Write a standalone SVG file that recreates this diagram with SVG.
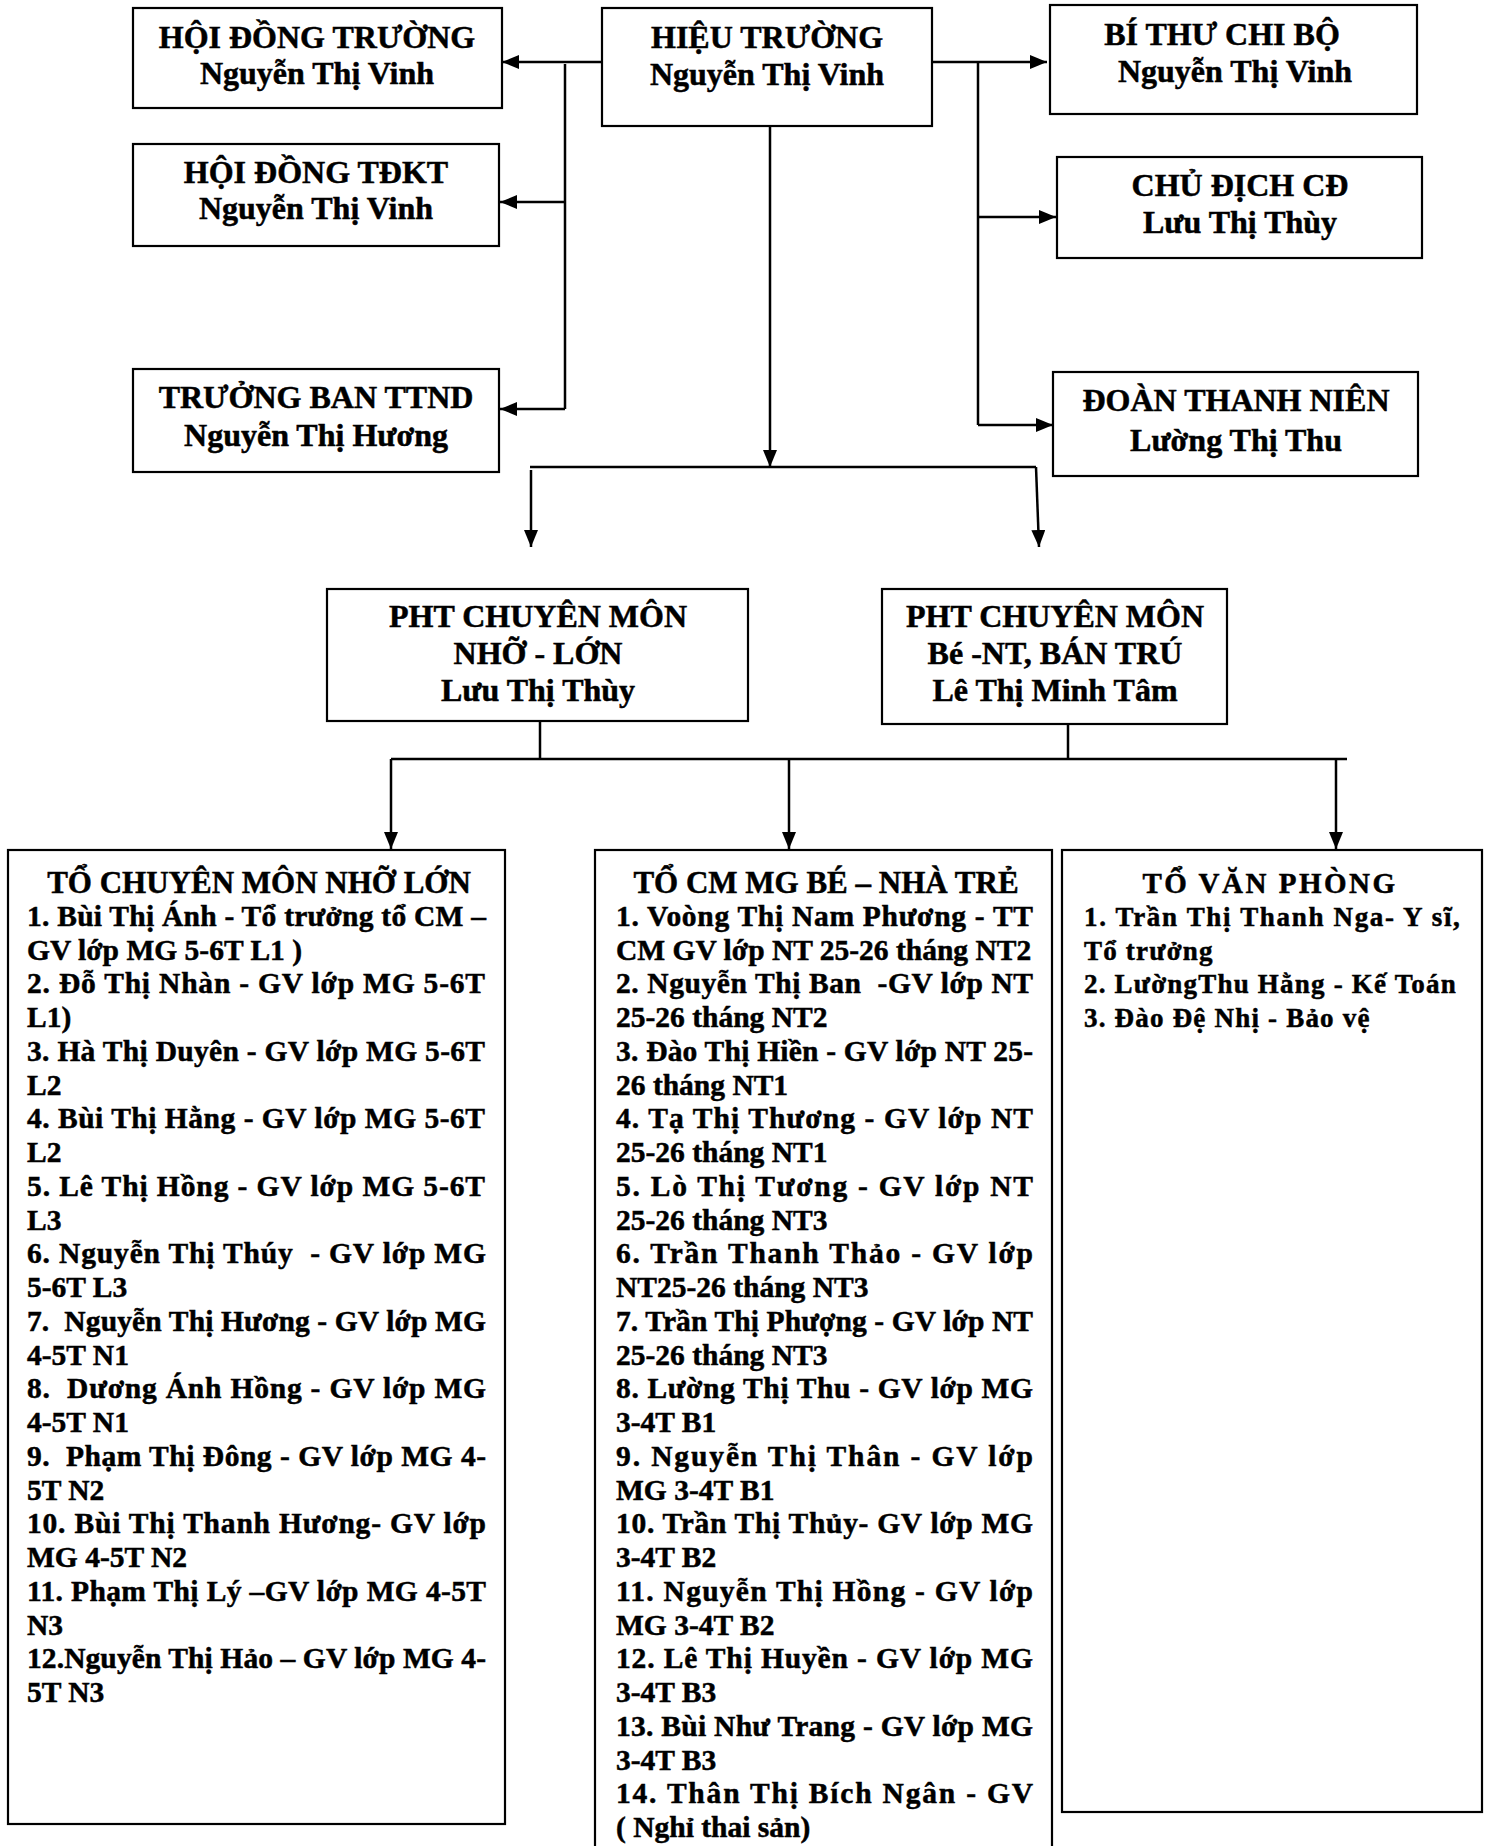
<svg xmlns="http://www.w3.org/2000/svg" width="1489" height="1846" viewBox="0 0 1489 1846">
<style>
  .bx{fill:#fff;stroke:#000;stroke-width:2.2}
  text{font-family:"Liberation Serif","Times New Roman",serif;font-weight:bold;fill:#000;stroke:#000;stroke-width:0.5}
  .h{font-size:32px;text-anchor:middle}
  .tt{font-size:31px;text-anchor:middle}
  .li{font-size:29.5px;white-space:pre}
  .vp{font-size:27px;letter-spacing:1.2px;white-space:pre}
  .vt{font-size:29px;letter-spacing:2.5px;text-anchor:middle}
  .cn{fill:none;stroke:#000;stroke-width:2.5}
</style>
<defs>
  <marker id="arr" markerUnits="userSpaceOnUse" markerWidth="17" markerHeight="14" viewBox="0 0 17 14" refX="17" refY="7" orient="auto">
    <path d="M0,0 L17,7 L0,14 z" fill="#000"/>
  </marker>
</defs>
<rect width="1489" height="1846" fill="#fff"/>

<g id="connectors">
  <path class="cn" d="M602,62 H502" marker-end="url(#arr)"/>
  <path class="cn" d="M565,64 V409"/>
  <path class="cn" d="M565,202 H500" marker-end="url(#arr)"/>
  <path class="cn" d="M565,409 H500" marker-end="url(#arr)"/>
  <path class="cn" d="M932,62 H1047" marker-end="url(#arr)"/>
  <path class="cn" d="M978,62 V425"/>
  <path class="cn" d="M978,217 H1056" marker-end="url(#arr)"/>
  <path class="cn" d="M978,425 H1053" marker-end="url(#arr)"/>
  <path class="cn" d="M770,126 V467" marker-end="url(#arr)"/>
  <path class="cn" d="M530,467 H1036"/>
  <path class="cn" d="M531,470 V547" marker-end="url(#arr)"/>
  <path class="cn" d="M1036,467 L1039,547" marker-end="url(#arr)"/>
  <path class="cn" d="M540,721 V759"/>
  <path class="cn" d="M1068,724 V759"/>
  <path class="cn" d="M391,759 H1347"/>
  <path class="cn" d="M391,759 V849" marker-end="url(#arr)"/>
  <path class="cn" d="M789,759 V849" marker-end="url(#arr)"/>
  <path class="cn" d="M1336,759 V849" marker-end="url(#arr)"/>
</g>

<g id="hoi-dong-truong">
  <rect class="bx" x="133" y="8" width="369" height="100"/>
  <text class="h" x="317" y="48">HỘI ĐỒNG TRƯỜNG</text>
  <text class="h" x="317" y="84">Nguyễn Thị Vinh</text>
</g>
<g id="hoi-dong-tdkt">
  <rect class="bx" x="133" y="144" width="366" height="102"/>
  <text class="h" x="316" y="183">HỘI ĐỒNG TĐKT</text>
  <text class="h" x="316" y="219">Nguyễn Thị Vinh</text>
</g>
<g id="truong-ban-ttnd">
  <rect class="bx" x="133" y="369" width="366" height="103"/>
  <text class="h" x="316" y="408">TRƯỞNG BAN TTND</text>
  <text class="h" x="316" y="446">Nguyễn Thị Hương</text>
</g>
<g id="hieu-truong">
  <rect class="bx" x="602" y="8" width="330" height="118"/>
  <text class="h" x="767" y="48">HIỆU TRƯỜNG</text>
  <text class="h" x="767" y="85">Nguyễn Thị Vinh</text>
</g>
<g id="bi-thu-chi-bo">
  <rect class="bx" x="1050" y="5" width="367" height="109"/>
  <text class="h" x="1222" y="45">BÍ THƯ CHI BỘ</text>
  <text class="h" x="1235" y="82">Nguyễn Thị Vinh</text>
</g>
<g id="chu-dich-cd">
  <rect class="bx" x="1057" y="157" width="365" height="101"/>
  <text class="h" x="1240" y="196">CHỦ ĐỊCH CĐ</text>
  <text class="h" x="1240" y="233">Lưu Thị Thùy</text>
</g>
<g id="doan-thanh-nien">
  <rect class="bx" x="1053" y="372" width="365" height="104"/>
  <text class="h" x="1236" y="411">ĐOÀN THANH NIÊN</text>
  <text class="h" x="1236" y="451">Lường Thị Thu</text>
</g>
<g id="pht-nho-lon">
  <rect class="bx" x="327" y="589" width="421" height="132"/>
  <text class="h" x="538" y="627">PHT CHUYÊN MÔN</text>
  <text class="h" x="538" y="664">NHỠ - LỚN</text>
  <text class="h" x="538" y="701">Lưu Thị Thùy</text>
</g>
<g id="pht-be-nt">
  <rect class="bx" x="882" y="589" width="345" height="135"/>
  <text class="h" x="1055" y="627">PHT CHUYÊN MÔN</text>
  <text class="h" x="1055" y="664">Bé -NT, BÁN TRÚ</text>
  <text class="h" x="1055" y="701">Lê Thị Minh Tâm</text>
</g>

<g id="to-chuyen-mon-nho-lon">
  <rect class="bx" x="8" y="850" width="497" height="974"/>
  <text class="tt" x="259" y="893">TỔ CHUYÊN MÔN NHỠ LỚN</text>
  <text class="li" x="27" y="926" textLength="459" lengthAdjust="spacing">1. Bùi Thị Ánh - Tổ trưởng tổ CM –</text>
  <text class="li" x="27" y="960">GV lớp MG 5-6T L1 )</text>
  <text class="li" x="27" y="993" textLength="458" lengthAdjust="spacing">2. Đỗ Thị Nhàn - GV lớp MG 5-6T</text>
  <text class="li" x="27" y="1027">L1)</text>
  <text class="li" x="27" y="1061" textLength="458" lengthAdjust="spacing">3. Hà Thị Duyên - GV lớp MG 5-6T</text>
  <text class="li" x="27" y="1095">L2</text>
  <text class="li" x="27" y="1128" textLength="458" lengthAdjust="spacing">4. Bùi Thị Hằng - GV lớp MG 5-6T</text>
  <text class="li" x="27" y="1162">L2</text>
  <text class="li" x="27" y="1196" textLength="458" lengthAdjust="spacing">5. Lê Thị Hồng - GV lớp MG 5-6T</text>
  <text class="li" x="27" y="1230">L3</text>
  <text class="li" x="27" y="1263" textLength="459" lengthAdjust="spacing">6. Nguyễn Thị Thúy  - GV lớp MG</text>
  <text class="li" x="27" y="1297">5-6T L3</text>
  <text class="li" x="27" y="1331" textLength="459" lengthAdjust="spacing">7.  Nguyễn Thị Hương - GV lớp MG</text>
  <text class="li" x="27" y="1365">4-5T N1</text>
  <text class="li" x="27" y="1398" textLength="459" lengthAdjust="spacing">8.  Dương Ánh Hồng - GV lớp MG</text>
  <text class="li" x="27" y="1432">4-5T N1</text>
  <text class="li" x="27" y="1466" textLength="459" lengthAdjust="spacing">9.  Phạm Thị Đông - GV lớp MG 4-</text>
  <text class="li" x="27" y="1500">5T N2</text>
  <text class="li" x="27" y="1533" textLength="459" lengthAdjust="spacing">10. Bùi Thị Thanh Hương- GV lớp</text>
  <text class="li" x="27" y="1567">MG 4-5T N2</text>
  <text class="li" x="27" y="1601" textLength="459" lengthAdjust="spacing">11. Phạm Thị Lý –GV lớp MG 4-5T</text>
  <text class="li" x="27" y="1635">N3</text>
  <text class="li" x="27" y="1668" textLength="459" lengthAdjust="spacing">12.Nguyễn Thị Hảo – GV lớp MG 4-</text>
  <text class="li" x="27" y="1702">5T N3</text>
</g>

<g id="to-cm-mg-be-nha-tre">
  <rect class="bx" x="595" y="850" width="457" height="1010"/>
  <text class="tt" x="826" y="893">TỔ CM MG BÉ – NHÀ TRẺ</text>
  <text class="li" x="616" y="926" textLength="417" lengthAdjust="spacing">1. Voòng Thị Nam Phương - TT</text>
  <text class="li" x="616" y="960">CM GV lớp NT 25-26 tháng NT2</text>
  <text class="li" x="616" y="993" textLength="417" lengthAdjust="spacing">2. Nguyễn Thị Ban  -GV lớp NT</text>
  <text class="li" x="616" y="1027">25-26 tháng NT2</text>
  <text class="li" x="616" y="1061" textLength="417" lengthAdjust="spacing">3. Đào Thị Hiền - GV lớp NT 25-</text>
  <text class="li" x="616" y="1095">26 tháng NT1</text>
  <text class="li" x="616" y="1128" textLength="417" lengthAdjust="spacing">4. Tạ Thị Thương - GV lớp NT</text>
  <text class="li" x="616" y="1162">25-26 tháng NT1</text>
  <text class="li" x="616" y="1196" textLength="417" lengthAdjust="spacing">5. Lò Thị Tương - GV lớp NT</text>
  <text class="li" x="616" y="1230">25-26 tháng NT3</text>
  <text class="li" x="616" y="1263" textLength="417" lengthAdjust="spacing">6. Trần Thanh Thảo - GV lớp</text>
  <text class="li" x="616" y="1297">NT25-26 tháng NT3</text>
  <text class="li" x="616" y="1331" textLength="417" lengthAdjust="spacing">7. Trần Thị Phượng - GV lớp NT</text>
  <text class="li" x="616" y="1365">25-26 tháng NT3</text>
  <text class="li" x="616" y="1398" textLength="417" lengthAdjust="spacing">8. Lường Thị Thu - GV lớp MG</text>
  <text class="li" x="616" y="1432">3-4T B1</text>
  <text class="li" x="616" y="1466" textLength="417" lengthAdjust="spacing">9. Nguyễn Thị Thân - GV lớp</text>
  <text class="li" x="616" y="1500">MG 3-4T B1</text>
  <text class="li" x="616" y="1533" textLength="417" lengthAdjust="spacing">10. Trần Thị Thủy- GV lớp MG</text>
  <text class="li" x="616" y="1567">3-4T B2</text>
  <text class="li" x="616" y="1601" textLength="417" lengthAdjust="spacing">11. Nguyễn Thị Hồng - GV lớp</text>
  <text class="li" x="616" y="1635">MG 3-4T B2</text>
  <text class="li" x="616" y="1668" textLength="417" lengthAdjust="spacing">12. Lê Thị Huyền - GV lớp MG</text>
  <text class="li" x="616" y="1702">3-4T B3</text>
  <text class="li" x="616" y="1736" textLength="417" lengthAdjust="spacing">13. Bùi Như Trang - GV lớp MG</text>
  <text class="li" x="616" y="1770">3-4T B3</text>
  <text class="li" x="616" y="1803" textLength="417" lengthAdjust="spacing">14. Thân Thị Bích Ngân - GV</text>
  <text class="li" x="616" y="1837">( Nghỉ thai sản)</text>
</g>

<g id="to-van-phong">
  <rect class="bx" x="1062" y="850" width="420" height="962"/>
  <text class="vt" x="1270" y="893">TỔ VĂN PHÒNG</text>
  <text class="vp" x="1084" y="926" textLength="377" lengthAdjust="spacing">1. Trần Thị Thanh Nga- Y sĩ,</text>
  <text class="vp" x="1084" y="960">Tổ trưởng</text>
  <text class="vp" x="1084" y="993">2. LườngThu Hằng - Kế Toán</text>
  <text class="vp" x="1084" y="1027">3. Đào Đệ Nhị - Bảo vệ</text>
</g>
</svg>
